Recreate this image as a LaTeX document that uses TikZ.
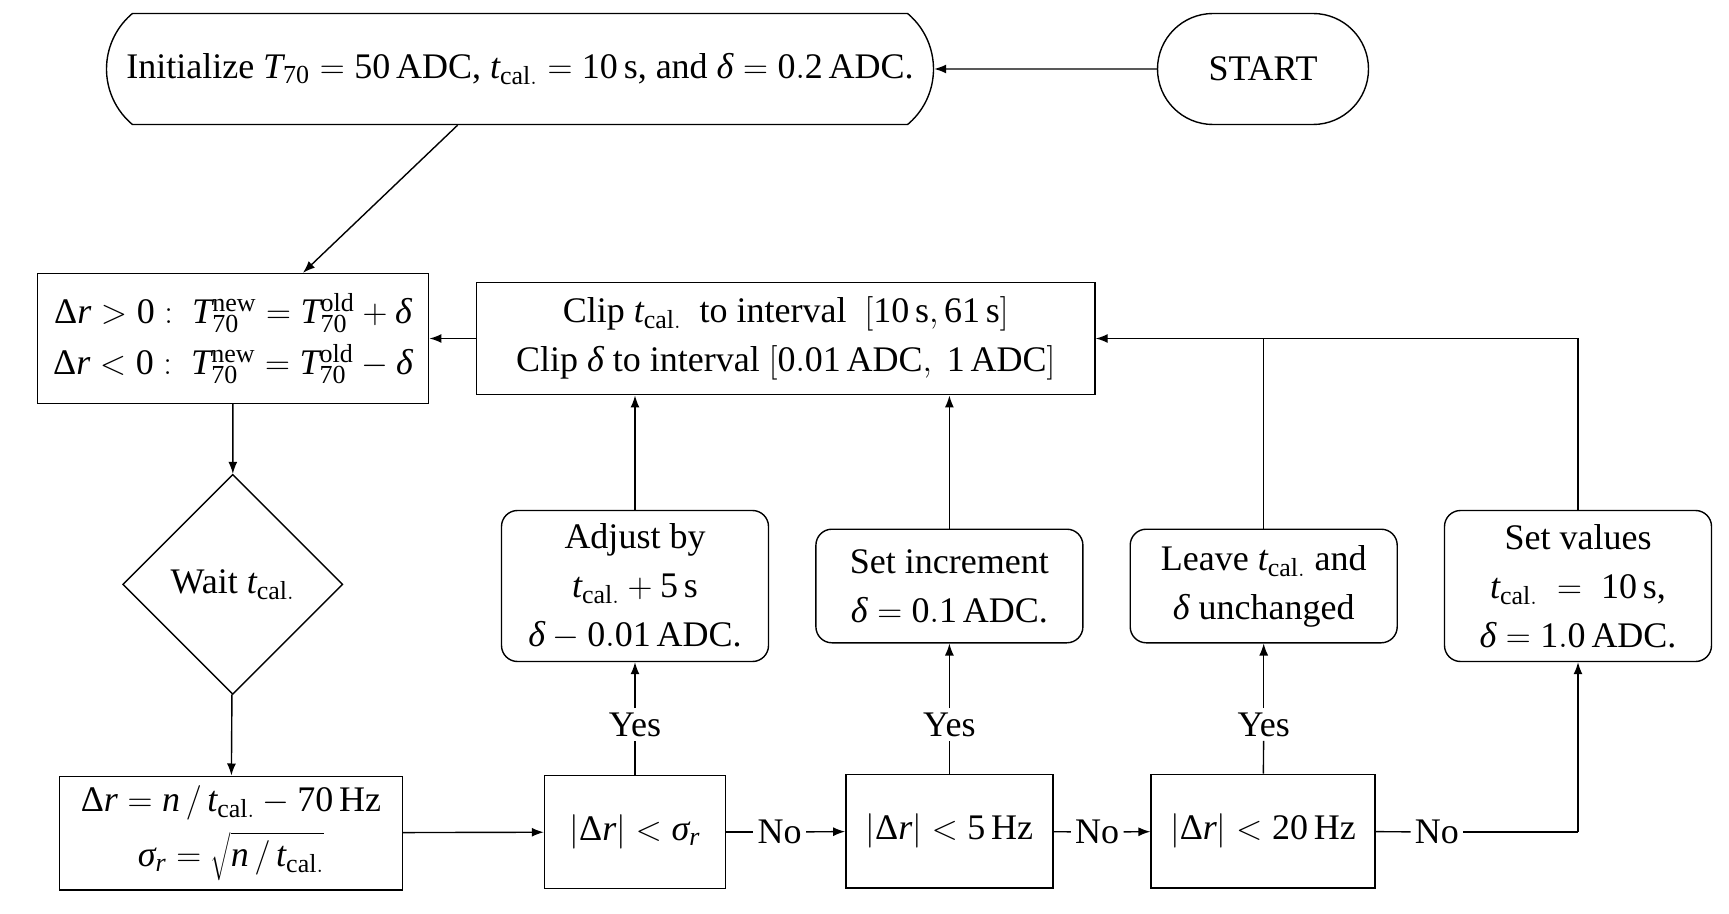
\documentclass[tikz,border=0pt]{standalone}
\usepackage{fontspec}
\setmainfont{Liberation Serif}
\DeclareMathSizes{18}{18}{13}{10}
\usetikzlibrary{shapes.misc,shapes.geometric,arrows.meta}
\tikzset{
  base/.style={draw, line width=0.7pt, align=center, inner sep=2pt, font=\fontsize{18}{24.5}\selectfont},
  stadium/.style={base, rounded rectangle, rounded rectangle arc length=#1},
  box/.style={base, rectangle},
  act/.style={base, rectangle, rounded corners=8pt},
  dec/.style={base, diamond, shape aspect=1, minimum size=110pt, inner sep=0pt},
  lbl/.style={inner sep=2pt, font=\fontsize{18}{24}\selectfont},
  arr/.style={line width=0.7pt, -{Latex[length=6pt,width=4.5pt]}},
  ln/.style={line width=0.7pt},
}
\newcommand{\tc}{\mathit{t}_{\mathrm{cal.}}}
\newcommand{\dlt}{\mbox{\itshape δ}}
\newcommand{\sgm}{\mbox{\itshape σ}}
\newcommand{\Dr}{\mbox{Δ}\mathit{r}}
\newcommand{\Tn}{\mathit{T}_{\mathrm{70}}}
\newcommand{\nm}[1]{\mathrm{#1}}
\begin{document}
\begin{tikzpicture}[x=0.5pt,y=-0.5pt]
\useasboundingbox (0,0) rectangle (1729,914);
\node[stadium=100, minimum width=417.5pt, minimum height=55.5pt] (init) at (520,69)
  {Initialize $\Tn = \nm{50}\,$ADC, $\tc = \nm{10}\,$s, and $\dlt = \nm{0.2}\,$ADC.};
\node[stadium=180, minimum width=109.5pt, minimum height=55.5pt] (start) at (1263,69) {START};
\node[box, minimum width=195.75pt, minimum height=65pt] (update) at (233,338.5)
  {$\Dr > \nm{0}:\; \mathit{T}_{\mathrm{70}}^{\mathrm{new}} = \mathit{T}_{\mathrm{70}}^{\mathrm{old}} + \dlt$\\[1pt]
   $\Dr < \nm{0}:\; \mathit{T}_{\mathrm{70}}^{\mathrm{new}} = \mathit{T}_{\mathrm{70}}^{\mathrm{old}} - \dlt$};
\node[box, minimum width=309.3pt, minimum height=56.25pt] (clip) at (785.7,338.5)
  {Clip $\tc$ ~to interval~ $[\nm{10}\,\mathrm{s}, \nm{61}\,\mathrm{s}]$\\
   Clip $\dlt$ to interval $[\nm{0.01}\,\mathrm{ADC},\ \nm{1}\,\mathrm{ADC}]$};
\node[dec] (wait) at (232.7,584.4) {Wait $\tc$};
\node[box, minimum width=171.5pt, minimum height=56.8pt] (calc) at (231,833)
  {$\Dr = \mathit{n} \,/\, \tc - \nm{70}\,\mathrm{Hz}$\\[3pt] $\sgm_{\mathit{r}} = \sqrt{\mathit{n} \,/\, \tc}$};
\node[box, minimum width=90.5pt, minimum height=56.5pt] (d1) at (635,832)
  {$|\Dr| < \sgm_{\mathit{r}}$};
\node[box, minimum width=103.6pt, minimum height=56.8pt] (d2) at (949.4,831)
  {$|\Dr| < \nm{5}\,\mathrm{Hz}$};
\node[box, minimum width=111.9pt, minimum height=56.8pt] (d3) at (1263,831)
  {$|\Dr| < \nm{20}\,\mathrm{Hz}$};
\node[act, minimum width=133.5pt, minimum height=75.5pt] (adj) at (635,586)
  {Adjust by\\ $\tc + \nm{5}\,$s\\ $\dlt - \nm{0.01}\,$ADC.};
\node[act, minimum width=133.5pt, minimum height=56.8pt] (inc) at (949.4,586)
  {Set increment\\ $\dlt = \nm{0.1}\,$ADC.};
\node[act, minimum width=133.5pt, minimum height=56.8pt] (leave) at (1263.7,586)
  {Leave $\tc$ and\\ $\dlt$ unchanged};
\node[act, minimum width=133.5pt, minimum height=75.5pt] (setv) at (1578,586)
  {Set values\\ $\tc \;=\; \nm{10}\,$s,\\ $\dlt = \nm{1.0}\,$ADC.};
\node[lbl] (yes1) at (635,724.5) {Yes};
\node[lbl] (yes2) at (949.4,724.5) {Yes};
\node[lbl] (yes3) at (1263.7,724.5) {Yes};
\node[lbl] (no1) at (779.6,832) {No};
\node[lbl] (no2) at (1097.2,832) {No};
\node[lbl] (no3) at (1436.9,832) {No};
\coordinate (corner) at (1578,832);
% connectors
\draw[arr] (start) -- (init);
\draw[arr] ([xshift=-31.2pt]init.south) -- ([xshift=35pt]update.north);
\draw[arr] (clip) -- (update);
\draw[arr] (update) -- (wait);
\draw[arr] (wait) -- (calc);
\draw[arr] (calc) -- (d1);
\draw[ln] (d1) -- (no1);
\draw[arr] (no1) -- (d2);
\draw[ln] (d2) -- (no2);
\draw[arr] (no2) -- (d3);
\draw[ln] (d3) -- (no3);
\draw[ln] (no3) -- (corner);
\draw[arr] (corner) -- (setv);
\draw[ln] (d1) -- (yes1);
\draw[arr] (yes1) -- (adj);
\draw[ln] (d2) -- (yes2);
\draw[arr] (yes2) -- (inc);
\draw[ln] (d3) -- (yes3);
\draw[arr] (yes3) -- (leave);
\draw[arr] (adj) -- (adj |- clip.south);
\draw[arr] (inc) -- (inc |- clip.south);
\draw[arr] (setv.north) |- (clip.east);
\draw[ln] (leave.north) -- (leave.north |- clip.east);
\end{tikzpicture}
\end{document}
